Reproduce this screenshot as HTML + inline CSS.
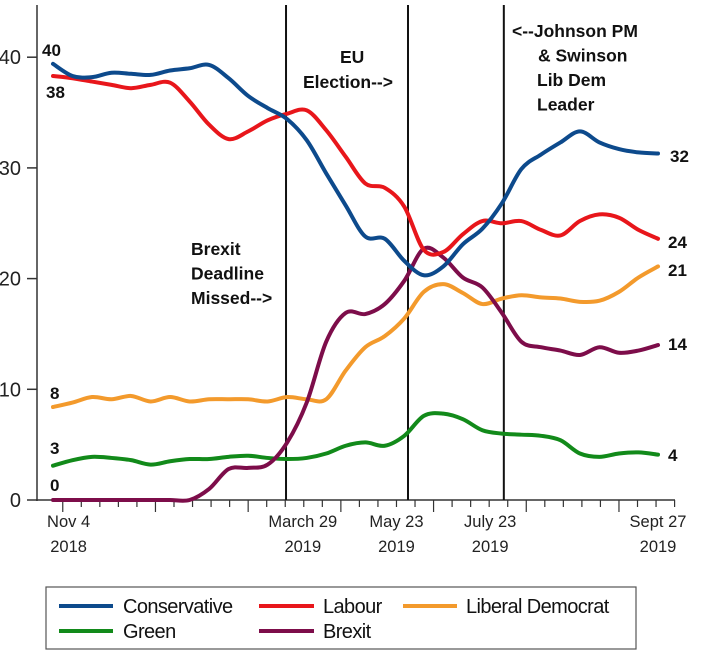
<!DOCTYPE html>
<html><head><meta charset="utf-8"><style>
html,body{margin:0;padding:0;background:#fff;}
svg{display:block;font-family:"Liberation Sans",Arial,sans-serif;}
.ann{font-weight:bold;font-size:17.5px;fill:#111;}
.end{font-weight:bold;font-size:17px;fill:#111;}
.tl{font-size:16.5px;fill:#222;}
.yl{font-size:20px;fill:#222;}
.lg{font-size:20px;fill:#111;letter-spacing:-0.6px;}
</style></head><body>
<svg id="chart" width="720" height="661" viewBox="0 0 720 661" xmlns="http://www.w3.org/2000/svg">
<g id="axes"></g>
<g id="events"></g>
<g id="series"></g>
<g id="labels">
<text class="ann" x="191" y="255"><tspan x="191">Brexit</tspan><tspan x="191" dy="24.5">Deadline</tspan><tspan x="191" dy="24.5">Missed--&gt;</tspan></text>
<text class="ann" x="340" y="63"><tspan x="340">EU</tspan><tspan x="303" dy="25">Election--&gt;</tspan></text>
<text class="ann" x="512" y="37"><tspan x="512">&lt;--Johnson PM</tspan><tspan x="538" dy="24.5">&amp; Swinson</tspan><tspan x="537" dy="24.5">Lib Dem</tspan><tspan x="537" dy="24.5">Leader</tspan></text>
<text class="end" x="42" y="56">40</text>
<text class="end" x="46" y="98">38</text>
<text class="end" x="50" y="399">8</text>
<text class="end" x="50" y="454">3</text>
<text class="end" x="50" y="491">0</text>
<text class="end" x="670" y="162">32</text>
<text class="end" x="668" y="248">24</text>
<text class="end" x="668" y="276">21</text>
<text class="end" x="668" y="350">14</text>
<text class="end" x="668" y="461">4</text>
</g>
<g id="legend">
<rect x="46" y="587" width="590" height="62" fill="#fff" stroke="#555" stroke-width="1.2"/>
<g><line x1="59" y1="606" x2="113" y2="606" stroke="#0d4a8c" stroke-width="4"/><text class="lg" x="123" y="613">Conservative</text></g>
<g><line x1="259" y1="606" x2="314" y2="606" stroke="#e8161b" stroke-width="4"/><text class="lg" x="323" y="613">Labour</text></g>
<g><line x1="403" y1="606" x2="457" y2="606" stroke="#f39a2c" stroke-width="4"/><text class="lg" x="466" y="613">Liberal Democrat</text></g>
<g><line x1="59" y1="631" x2="113" y2="631" stroke="#128a1a" stroke-width="4"/><text class="lg" x="123" y="638">Green</text></g>
<g><line x1="259" y1="631" x2="314" y2="631" stroke="#7d0d4a" stroke-width="4"/><text class="lg" x="323" y="638">Brexit</text></g>
</g>
</svg>
<script>
const conservative=[39.4,38.3,38.2,38.6,38.5,38.4,38.8,39.0,39.3,38.1,36.5,35.4,34.4,32.5,29.5,26.6,23.8,23.6,21.6,20.3,21.1,23.1,24.5,26.8,29.9,31.2,32.3,33.3,32.3,31.7,31.4,31.3];
const labour=[38.3,38.1,37.8,37.5,37.2,37.5,37.7,36.0,33.9,32.6,33.3,34.3,34.9,35.2,33.4,31.0,28.6,28.2,26.5,22.6,22.4,24.0,25.2,25.0,25.2,24.4,23.9,25.2,25.8,25.5,24.4,23.6];
const libdem=[8.4,8.8,9.3,9.1,9.4,8.9,9.3,8.9,9.1,9.1,9.1,8.9,9.3,9.1,9.1,11.7,13.8,14.8,16.4,18.8,19.5,18.7,17.7,18.2,18.5,18.3,18.2,17.9,18.0,18.8,20.1,21.1];
const green=[3.1,3.6,3.9,3.8,3.6,3.2,3.5,3.7,3.7,3.9,4.0,3.8,3.7,3.8,4.2,4.9,5.2,4.9,5.8,7.6,7.8,7.3,6.3,6.0,5.9,5.8,5.4,4.2,3.9,4.2,4.3,4.1];
const brexit=[0,0,0,0,0,0,0,0,1.0,2.8,2.9,3.2,5.2,8.8,14.3,16.9,16.8,17.7,19.8,22.7,21.9,20.1,19.2,16.9,14.3,13.8,13.5,13.1,13.8,13.3,13.5,14.0];
const yTicks=[0,10,20,30,40];
const dateLabels=["Nov 4","March 29","May 23","July 23","Sept 27"];
const yearLabels=["2018","2019","2019","2019","2019"];
const dateIdx=[0.8,12.8,17.6,22.4,31.0];
const eventIdx=[11.94,18.19,23.1];

const NS="http://www.w3.org/2000/svg";
const N=conservative.length;
const X0=53,X1=658,Y0=500,PPU=11.07;
function xs(i){return X0+i*(X1-X0)/(N-1);}
function ys(v){return Y0-v*PPU;}
function mk(tag,attrs,parent){const e=document.createElementNS(NS,tag);for(const k in attrs)e.setAttribute(k,attrs[k]);parent.appendChild(e);return e;}
const axes=document.getElementById('axes');
let a=mk('line',{x1:37,y1:5,x2:37,y2:501,stroke:'#333','stroke-width':1.5},axes);


a=mk('line',{x1:36,y1:500,x2:675,y2:500,stroke:'#333','stroke-width':1.5},axes);


yTicks.forEach(v=>{
  const t=mk('line',{x1:27,y1:ys(v),x2:37,y2:ys(v),stroke:'#333','stroke-width':1.5},axes);
  
  
  const l=mk('text',{x:21,y:ys(v)+7,'text-anchor':'end',class:'yl'},axes);
  l.textContent=String(v);
  
  
});
for(let k=0;k<34;k++){
  const i=0.5+k*0.95;
  const x=xs(i);
  if(x>676)break;
  const t=mk('line',{x1:x,y1:500,x2:x,y2:(k%5==0)?512:507,stroke:'#333','stroke-width':1.2},axes);
  
  
}
dateLabels.forEach((d,j)=>{
  const x=xs(dateIdx[j]);
  const l=mk('text',{x:x,y:527,'text-anchor':'middle',class:'tl'},axes);
  l.textContent=d;
  
  
  const l2=mk('text',{x:x,y:552,'text-anchor':'middle',class:'tl'},axes);
  l2.textContent=yearLabels[j];
  
  
});
const ev=document.getElementById('events');
eventIdx.forEach(i=>{
  const l=mk('line',{x1:xs(i),y1:5,x2:xs(i),y2:500,stroke:'#111','stroke-width':2},ev);
  
  
});
function smooth(vals){
  const p=vals.map((v,i)=>[xs(i),ys(v)]);
  let d='M'+p[0][0]+','+p[0][1];
  for(let i=0;i<p.length-1;i++){
    const p0=p[Math.max(0,i-1)],p1=p[i],p2=p[i+1],p3=p[Math.min(p.length-1,i+2)];
    const c1=[p1[0]+(p2[0]-p0[0])/6,p1[1]+(p2[1]-p0[1])/6];
    const c2=[p2[0]-(p3[0]-p1[0])/6,p2[1]-(p3[1]-p1[1])/6];
    d+=' C'+c1[0]+','+c1[1]+' '+c2[0]+','+c2[1]+' '+p2[0]+','+p2[1];
  }
  return d;
}
const sg=document.getElementById('series');
function draw(vals,color,name){
  const p=mk('path',{d:smooth(vals),fill:'none',stroke:color,'stroke-width':4,'stroke-linejoin':'round','stroke-linecap':'round'},sg);
  
  
}
draw(green,'#128a1a','line-green');
draw(libdem,'#f39a2c','line-libdem');
draw(brexit,'#7d0d4a','line-brexit');
draw(labour,'#e8161b','line-labour');
draw(conservative,'#0d4a8c','line-conservative');
</script>
</body></html>
